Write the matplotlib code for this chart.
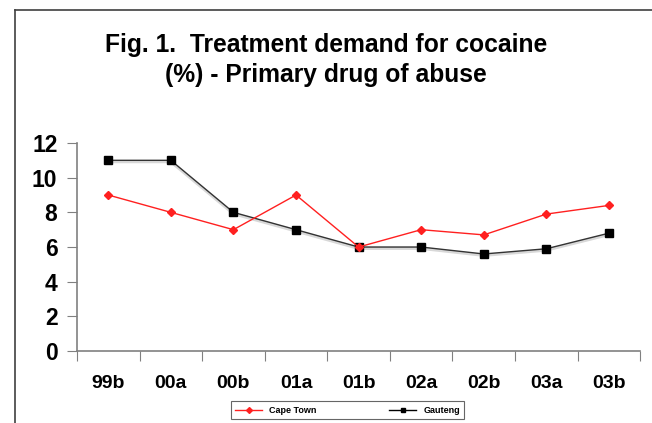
import matplotlib.pyplot as plt
from matplotlib.lines import Line2D

periods = ["99b", "00a", "00b", "01a", "01b", "02a", "02b", "03a", "03b"]
cape_town = [9, 8, 7, 9, 6, 7, 6.7, 7.9, 8.4]
gauteng = [11, 11, 8, 7, 6, 6, 5.6, 5.9, 6.8]

plt.rcParams['font.family'] = ['Liberation Sans', 'DejaVu Sans']

fig = plt.figure(figsize=(6.52, 4.23), dpi=100)
ax = fig.add_axes([0.118, 0.170, 0.864, 0.492])

x = range(len(periods))
# faint shadow under the Gauteng line
ax.plot(x, [v - 0.08 for v in gauteng], color="#d8d8d8", lw=2.2, zorder=1)
ax.plot(x, gauteng, color="#333333", lw=1.0, marker="s", ms=6,
        mfc="black", mec="black", zorder=3, label="Gauteng")
ax.plot(x, cape_town, color="#ff2020", lw=1.0, marker="D", ms=4.5,
        mfc="#ff2020", mec="#ff2020", zorder=4, label="Cape Town")

ax.set_xlim(-0.5, len(periods) - 0.5)
ax.set_ylim(0, 12)
ax.set_yticks(range(0, 13, 2))
ax.set_xticks([i - 0.5 for i in range(len(periods) + 1)], minor=False)
ax.set_xticklabels([])
ax.set_xticks(list(x), minor=True)
ax.set_xticklabels(periods, minor=True, fontsize=14, fontweight="bold")
ax.tick_params(axis="x", which="minor", length=0, pad=17)
ax.tick_params(axis="x", which="major", length=7, color="#808080", direction="out")
ax.tick_params(axis="y", length=7, color="#808080", direction="out",
               labelsize=16.5, pad=7)
for lab in ax.get_yticklabels():
    lab.set_fontweight("bold")

for s in ["top", "right"]:
    ax.spines[s].set_visible(False)
for s in ["left", "bottom"]:
    ax.spines[s].set_color("#808080")
    ax.spines[s].set_linewidth(1.2)

fig.text(0.5, 0.893, "Fig. 1.  Treatment demand for cocaine", ha="center",
         va="center", fontsize=17.7, fontweight="bold")
fig.text(0.5, 0.822, "(%) - Primary drug of abuse", ha="center",
         va="center", fontsize=17.7, fontweight="bold")

# outer frame on left and top
fig.add_artist(Line2D([0.023, 0.023], [0, 0.976], color="#404040", lw=1.2))
fig.add_artist(Line2D([0.023, 1.0], [0.976, 0.976], color="#404040", lw=1.2))

handles = [
    Line2D([], [], color="#ff2020", lw=1.0, marker="D", ms=3, mfc="#ff2020",
           mec="#ff2020"),
    Line2D([], [], color="black", lw=1.0, marker="s", ms=3.5, mfc="black",
           mec="black"),
]
leg = fig.legend(handles, ["Cape Town", "Gauteng"], loc="center",
                 bbox_to_anchor=(0.533, 0.03), ncol=2, frameon=True,
                 fancybox=False, edgecolor="#404040",
                 prop={"weight": "bold", "size": 6.5}, handlelength=3,
                 columnspacing=8, borderpad=0.5)
leg.get_frame().set_linewidth(0.8)

fig.savefig("out.png", dpi=100)
